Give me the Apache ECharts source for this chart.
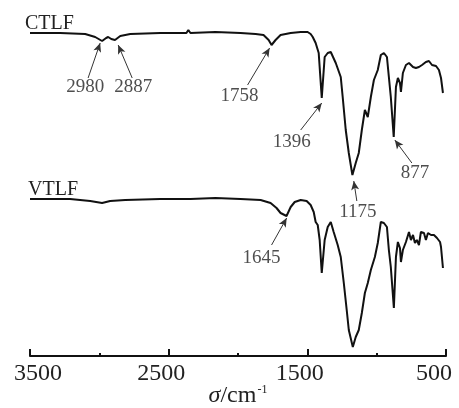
<!DOCTYPE html>
<html>
<head>
<meta charset="utf-8">
<script src="https://cdn.jsdelivr.net/npm/echarts@6/dist/echarts.min.js"></script>
<style>
  html, body { margin: 0; padding: 0; background: #fff; }
  #ir-echart { width: 459px; height: 408px; }
</style>
</head>
<body>
<div id="ir-echart"></div>
<script>
// wavenumber (cm-1) and transmittance (arbitrary units, spectra offset)
var ctlfWave = [3500, 3283, 3102, 3030, 2980, 2951, 2936, 2914, 2887, 2849, 2777, 2560, 2372, 2358, 2343, 2163, 1982, 1873, 1816, 1779, 1758, 1729, 1693, 1620, 1548, 1498, 1476, 1461, 1440, 1418, 1396, 1375, 1353, 1331, 1295, 1259, 1245, 1223, 1201, 1175, 1151, 1129, 1107, 1085, 1064, 1042, 1020, 992, 970, 948, 926, 912, 898, 877, 861, 847, 832, 825, 811, 789, 767, 738, 717, 695, 673, 645, 623, 601, 572, 551, 536, 522];
var ctlfT = [323, 323, 322, 319, 315, 318, 319, 317, 316, 320, 322, 323, 323, 326, 323, 324, 323, 322, 321, 316, 311, 316, 321, 323, 324, 324, 322, 319, 313, 303, 258, 299, 303, 304, 293, 279, 259, 226, 203, 181, 193, 203, 226, 246, 239, 259, 276, 286, 301, 303, 299, 279, 259, 219, 269, 278, 273, 264, 283, 291, 293, 289, 288, 289, 291, 294, 295, 291, 290, 286, 278, 263];

var vtlfWave = [3500, 3211, 3066, 2980, 2922, 2813, 2560, 2372, 2358, 2343, 2163, 1982, 1837, 1765, 1722, 1693, 1650, 1620, 1591, 1548, 1505, 1476, 1454, 1440, 1425, 1411, 1396, 1375, 1353, 1331, 1310, 1281, 1259, 1237, 1216, 1201, 1172, 1151, 1129, 1107, 1085, 1064, 1042, 1013, 992, 970, 948, 926, 912, 898, 876, 861, 847, 832, 825, 811, 789, 767, 753, 738, 724, 710, 695, 681, 659, 645, 630, 608, 587, 565, 543, 536, 522];
var vtlfT = [157, 157, 155, 153, 155, 156, 157, 157, 159, 157, 158, 157, 156, 153, 148, 143, 140, 149, 154, 156, 155, 151, 144, 134, 131, 116, 83, 116, 129, 134, 124, 111, 99, 73, 46, 26, 9, 19, 26, 43, 63, 73, 86, 99, 113, 134, 133, 129, 106, 89, 48, 99, 114, 108, 94, 106, 114, 124, 116, 121, 113, 116, 111, 124, 123, 116, 123, 121, 121, 118, 114, 109, 88];

var xTicks = [500, 1500, 2500, 3500];

// peak annotations: text, label position, arrow start, arrow tip
var peakText = ['2980', '2887', '1758', '1396', '1175', '877', '1645'];
var labelPos = [[3102, 269], [2755, 269], [1989, 260], [1613, 214], [1136, 144], [724, 183], [1830, 98]];
var arrowFrom = [[3081, 278], [2763, 278], [1931, 271], [1548, 226], [1143, 155], [746, 193], [1758, 111]];
var arrowTo = [[2994, 313], [2864, 311], [1772, 308], [1396, 253], [1165, 175], [869, 216], [1649, 138]];

var serif = '"Liberation Serif", "Times New Roman", serif';

function zip(a, b) {
  return a.map(function (v, i) { return [v, b[i]]; });
}

var arrows = arrowFrom.map(function (p, i) {
  return [{ coord: p }, { coord: arrowTo[i] }];
});
var labels = labelPos.map(function (p, i) {
  return { name: peakText[i], value: p };
});

var tickText = { fontFamily: serif, fontSize: 24, color: '#222' };

var echart = echarts.init(document.getElementById('ir-echart'));
echart.setOption({
  animation: false,
  title: [{
    text: 'CTLF', left: 20, top: 9,
    textStyle: { fontFamily: serif, fontSize: 20, fontWeight: 'normal', color: '#222' }
  }, {
    text: 'VTLF', left: 23, top: 175,
    textStyle: { fontFamily: serif, fontSize: 20, fontWeight: 'normal', color: '#222' }
  }],
  grid: { left: 30, right: 13, top: 0, bottom: 52, outerBoundsMode: 'none', containLabel: false },
  xAxis: {
    type: 'value',
    inverse: true,
    min: 500,
    max: 3500,
    interval: 1000,
    name: '{i|σ}{n|/cm}{s|-1}',
    nameLocation: 'middle',
    nameGap: 28,
    nameMoveOverlap: false,
    nameTextStyle: {
      rich: {
        i: { fontFamily: serif, fontSize: 24, fontStyle: 'italic', color: '#222' },
        n: { fontFamily: serif, fontSize: 24, color: '#222' },
        s: { fontFamily: serif, fontSize: 12, color: '#222', verticalAlign: 'top', padding: [0, 0, 10, 1] }
      }
    },
    axisLine: { lineStyle: { color: '#111', width: 2 } },
    axisTick: { inside: true, length: 7, lineStyle: { color: '#111', width: 2 } },
    minorTick: { show: true, splitNumber: 2, length: 3, lineStyle: { color: '#111', width: 2 } },
    splitLine: { show: false },
    axisLabel: {
      margin: 6,
      formatter: function (v) {
        if (xTicks.indexOf(v) < 0) return '';
        if (v === 3500) return '{l|' + v + '}';
        if (v === 500) return '{e|' + v + '}';
        return '{r|' + v + '}';
      },
      rich: {
        l: Object.assign({ padding: [0, 0, 0, 16] }, tickText),
        r: Object.assign({ padding: [0, 15, 0, 0] }, tickText),
        e: Object.assign({ padding: [0, 24, 0, 0] }, tickText)
      }
    }
  },
  yAxis: {
    type: 'value',
    min: 0,
    max: 356,
    show: false
  },
  series: [{
    name: 'CTLF',
    type: 'line',
    data: zip(ctlfWave, ctlfT),
    showSymbol: false,
    lineStyle: { color: '#111', width: 2 },
    markLine: {
      silent: true,
      symbol: ['none', 'arrow'],
      symbolSize: [6, 9],
      lineStyle: { color: '#333', width: 1, type: 'solid' },
      label: { show: false },
      data: arrows
    }
  }, {
    name: 'VTLF',
    type: 'line',
    data: zip(vtlfWave, vtlfT),
    showSymbol: false,
    lineStyle: { color: '#111', width: 2 }
  }, {
    name: 'peaks',
    type: 'scatter',
    symbolSize: 0,
    clip: false,
    data: labels,
    label: {
      show: true,
      position: 'inside',
      formatter: '{b}',
      fontFamily: serif,
      fontSize: 19,
      color: '#222'
    }
  }]
});
</script>
</body>
</html>
